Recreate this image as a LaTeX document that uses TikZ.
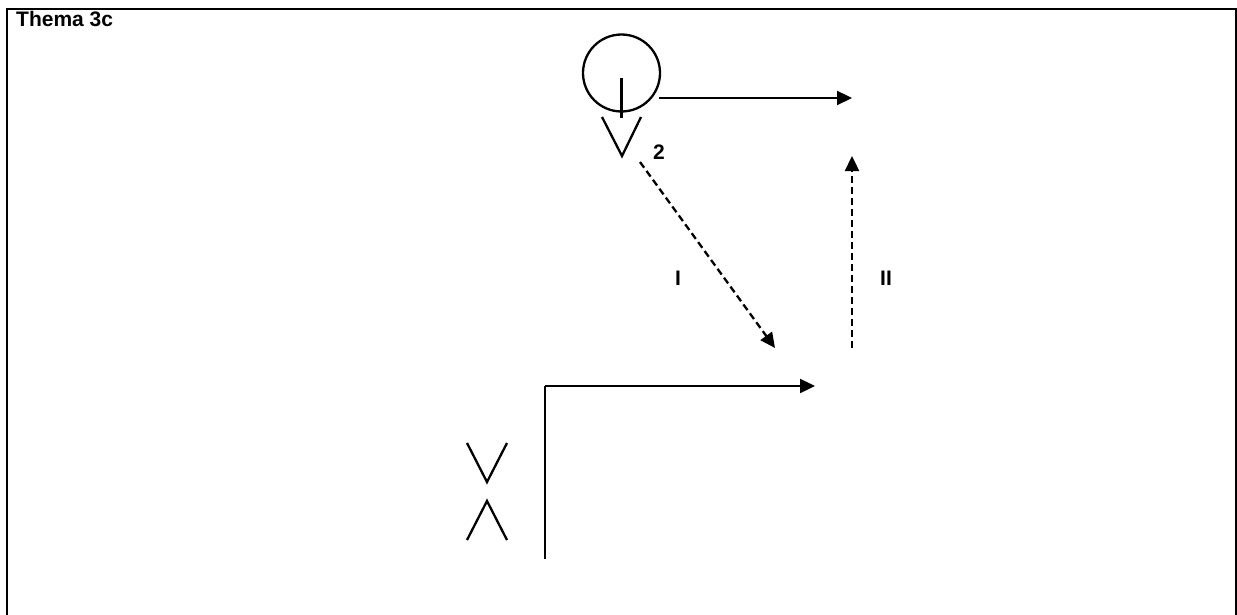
\documentclass[tikz,border=0pt]{standalone}
\usepackage{fontspec}
\setmainfont{Liberation Sans}
\usetikzlibrary{arrows.meta}
\begin{document}
\begin{tikzpicture}[x=1pt,y=-1pt,
  ln/.style={line width=2.3pt},
  arr/.style={ln,-{Triangle[length=15pt,width=14pt]}},
  dsh/.style={arr,dash pattern=on 7pt off 4pt},
  lbl/.style={font=\fontsize{21}{23}\selectfont\bfseries,inner sep=0pt},
  ring/.style={draw,ln,circle,minimum size=77pt,inner sep=0pt}]
\useasboundingbox (0,0) rectangle (1237,615);
% frame
\draw[ln] (7,640) -- (7,9) -- (1236,9) -- (1236,640);
\node[font=\fontsize{21}{23}\selectfont\bfseries,anchor=base west,inner sep=0pt] (title) at (16,26.5) {Thema 3c};
% top figure
\node[ring] (circ) at (621.5,73) {};
\coordinate (stemTop) at (621.5,78);
\coordinate (stemBot) at (621.5,118);
\draw[ln] (stemTop) -- (stemBot);
\coordinate (vL) at (602,117);
\coordinate (vM) at (622,156);
\coordinate (vR) at (641,117);
\draw[ln] (vL) -- (vM) -- (vR);
\coordinate (hS) at (659,98);
\coordinate (hE) at (852,98);
\draw[arr] (hS) -- (hE);
\node[lbl] (two) at (659,152) {2};
% dashed arrows
\coordinate (dS) at (640,162);
\coordinate (dE) at (775,348);
\draw[dsh] (dS) -- (dE);
\node[lbl] (one) at (678,278) {I};
\coordinate (uS) at (852,348);
\coordinate (uE) at (852,156);
\draw[dsh] (uS) -- (uE);
\node[lbl] (twoR) at (886,278) {II};
% bottom figure
\coordinate (Lb) at (545,559);
\coordinate (Lc) at (545,386);
\coordinate (Le) at (815,386);
\draw[ln] (Lb) -- (Lc);
\draw[arr] (Lc) -- (Le);
\coordinate (aL) at (467,443);
\coordinate (aM) at (487,482);
\coordinate (aR) at (507,443);
\draw[ln] (aL) -- (aM) -- (aR);
\coordinate (bL) at (467,540);
\coordinate (bM) at (487,501);
\coordinate (bR) at (507,540);
\draw[ln] (bL) -- (bM) -- (bR);
\end{tikzpicture}
\end{document}
